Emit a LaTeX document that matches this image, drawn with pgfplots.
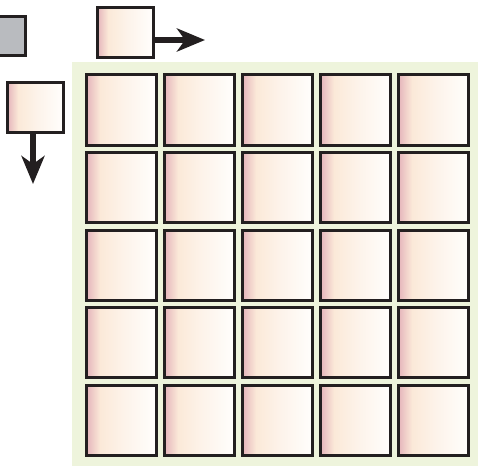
\documentclass[border=0pt]{standalone}
\usepackage{pgfplots}
\pgfplotsset{compat=1.18}
\usetikzlibrary{arrows.meta}
\definecolor{bgreen}{RGB}{238,244,220}
\definecolor{cpink}{RGB}{230,184,189}
\definecolor{cpeach}{RGB}{251,233,216}
\definecolor{cpeach2}{RGB}{253,243,234}
\definecolor{cwhite}{RGB}{255,254,252}
\definecolor{cedge}{RGB}{35,31,32}
\definecolor{cgrey}{RGB}{185,187,191}
\pgfdeclarehorizontalshading{boxshade}{100bp}{color(0bp)=(cpink); color(26bp)=(cpink); color(35bp)=(cpeach); color(52bp)=(cpeach2); color(75bp)=(cwhite); color(100bp)=(cwhite)}
\newcommand{\cell}[4]{\addplot[draw=cedge, line width=3pt, shading=boxshade] coordinates {(#1,#2) (#3,#2) (#3,#4) (#1,#4)} --cycle;}
\begin{document}
\begin{tikzpicture}
\begin{axis}[
  width=478pt, height=465pt, scale only axis,
  xmin=0, xmax=478, ymin=0, ymax=465, y dir=reverse,
  hide axis, clip=true]
\coordinate (BBA) at (axis cs:0,0);
\coordinate (BBB) at (axis cs:478,465);
% green background
\addplot[draw=none, fill=bgreen] coordinates {(72,62) (480,62) (480,467) (72,467)} --cycle;
% grey box (clipped at left)
\addplot[draw=cedge, line width=3pt, fill=cgrey] coordinates {(-30,17) (25,17) (25,56) (-30,56)} --cycle;
% top box and arrow
\cell{97}{8}{153}{58}
\addplot[draw=cedge, line width=6pt, -{Stealth[length=28pt, width=23pt, inset=8pt]}] coordinates {(153,40) (205,40)};
% left box and arrow
\cell{7}{83}{63}{133}
\addplot[draw=cedge, line width=6pt, -{Stealth[length=28pt, width=23pt, inset=8pt]}] coordinates {(33,133) (33,184)};
% grid
\cell{86}{75}{156}{145}
\cell{164}{75}{234}{145}
\cell{242}{75}{312}{145}
\cell{320}{75}{390}{145}
\cell{398}{75}{468}{145}
\cell{86}{152}{156}{222}
\cell{164}{152}{234}{222}
\cell{242}{152}{312}{222}
\cell{320}{152}{390}{222}
\cell{398}{152}{468}{222}
\cell{86}{230}{156}{300}
\cell{164}{230}{234}{300}
\cell{242}{230}{312}{300}
\cell{320}{230}{390}{300}
\cell{398}{230}{468}{300}
\cell{86}{307}{156}{377}
\cell{164}{307}{234}{377}
\cell{242}{307}{312}{377}
\cell{320}{307}{390}{377}
\cell{398}{307}{468}{377}
\cell{86}{385}{156}{455}
\cell{164}{385}{234}{455}
\cell{242}{385}{312}{455}
\cell{320}{385}{390}{455}
\cell{398}{385}{468}{455}
\end{axis}
\pgfresetboundingbox
\useasboundingbox (BBA) rectangle (BBB);
\end{tikzpicture}
\end{document}
